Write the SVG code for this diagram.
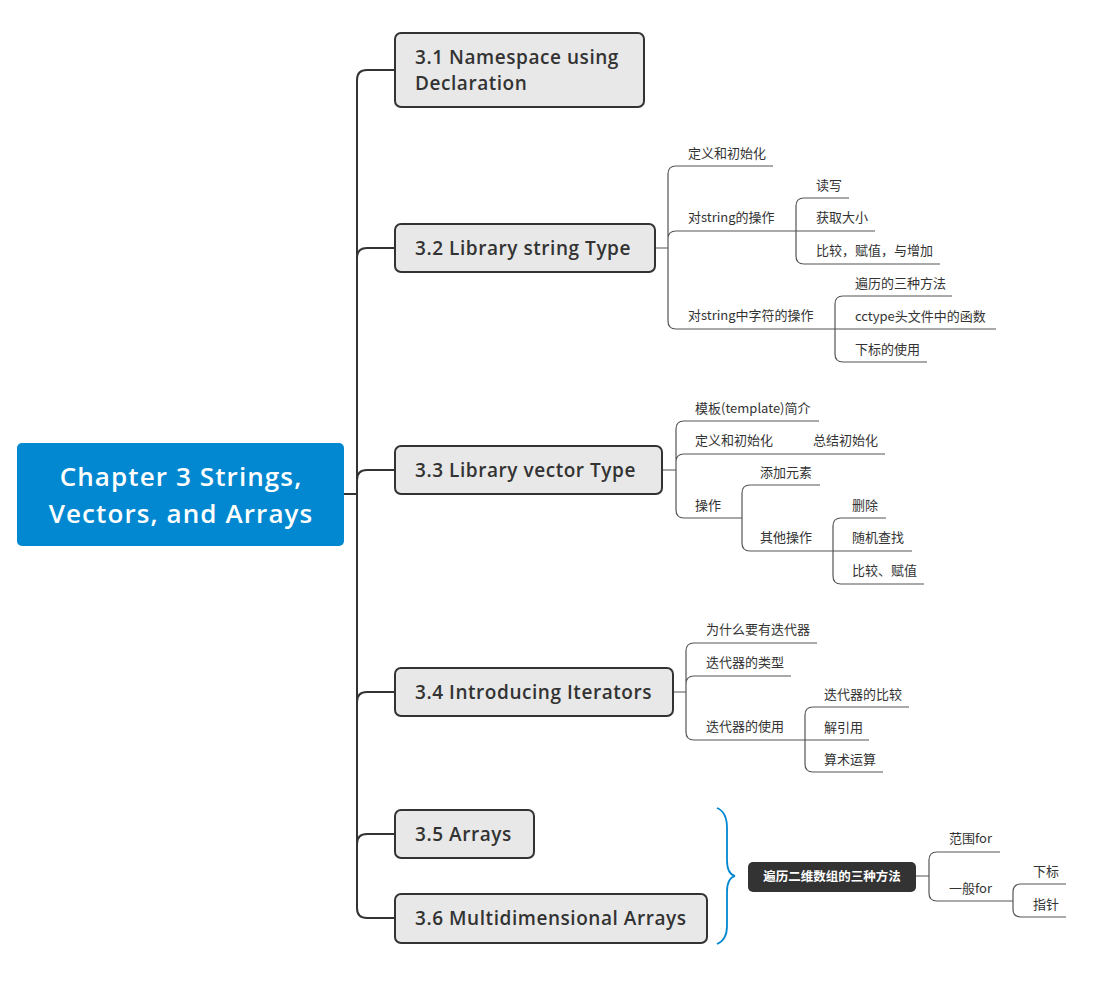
<svg xmlns="http://www.w3.org/2000/svg" width="1114" height="992" viewBox="0 0 1114 992">
<style>
.main{fill:#E8E8E8;stroke:#333;stroke-width:2}
.mt{font-family:"Open Sans","Liberation Sans",sans-serif;font-size:19px;font-weight:600;letter-spacing:0.55px;fill:#333}
.ct{font-family:"Noto Sans CJK SC","Noto Sans",sans-serif;font-size:13px;fill:#333}
.trunk{fill:none;stroke:#333;stroke-width:2}
.sub{fill:none;stroke:#555;stroke-width:1.2}
.rt{font-family:"Open Sans","Liberation Sans",sans-serif;font-size:26px;font-weight:600;letter-spacing:1.1px;fill:#fff}
</style>
<rect width="1114" height="992" fill="#fff"/>
<g id="connectors">
  <path class="trunk" d="M344,494 H357 M357,80 V908 M357,80 Q357,70 367,70 H395 M357,258 Q357,248 367,248 H395 M357,480 Q357,470 367,470 H395 M357,702 Q357,692 367,692 H395 M357,844 Q357,834 367,834 H395 M357,908 Q357,918 367,918 H395"/>
  <path class="sub" d="M655,248 H668 M668,174 V321 M668,174 Q668,166 676,166 H773 M668,239 Q668,231 676,231 H875 M668,321 Q668,329 676,329 H996"/>
  <path class="sub" d="M796,206 V256 M796,206 Q796,198 804,198 H849 M796,256 Q796,264 804,264 H940"/>
  <path class="sub" d="M835,304 V354 M835,304 Q835,296 843,296 H952 M835,354 Q835,362 843,362 H927"/>
  <path class="sub" d="M662,470 H676 M676,429 V510 M676,429 Q676,421 684,421 H819 M676,462 Q676,454 684,454 H885 M676,510 Q676,518 684,518 H742"/>
  <path class="sub" d="M742,493 V543 M742,493 Q742,485 750,485 H820 M742,543 Q742,551 750,551 H912"/>
  <path class="sub" d="M833,526 V576 M833,526 Q833,518 841,518 H886 M833,576 Q833,584 841,584 H924"/>
  <path class="sub" d="M673,692 H686 M686,651 V732 M686,651 Q686,643 694,643 H817 M686,684 Q686,676 694,676 H791 M686,732 Q686,740 694,740 H869"/>
  <path class="sub" d="M805,715 V764 M805,715 Q805,707 813,707 H909 M805,764 Q805,772 813,772 H883"/>
  <path fill="none" stroke="#0288D1" stroke-width="1.8" d="M717,808 Q727,812 727,828 V860 Q727,874 735,876 Q727,878 727,892 V926 Q727,940 717,944"/>
  <path class="sub" d="M916,876 H929 M929,860 V893 M929,860 Q929,852 937,852 H1000 M929,893 Q929,901 937,901 H1013"/>
  <path class="sub" d="M1013,892 V909 M1013,892 Q1013,884 1021,884 H1066 M1013,909 Q1013,917 1021,917 H1066"/>
</g>
<g id="root">
  <rect x="17" y="443" width="327" height="103" rx="5" fill="#0288D1"/>
  <text class="rt" x="181" y="486" text-anchor="middle">Chapter 3 Strings,</text>
  <text class="rt" x="181" y="523" text-anchor="middle">Vectors, and Arrays</text>
</g>
<g id="n31"><rect class="main" x="395" y="33" width="249" height="74" rx="6"/><text class="mt" x="415" y="64">3.1 Namespace using</text><text class="mt" x="415" y="90">Declaration</text></g>
<g id="n32"><rect class="main" x="395" y="224" width="260" height="48" rx="6"/><text class="mt" x="415" y="255">3.2 Library string Type</text></g>
<g id="n33"><rect class="main" x="395" y="446" width="267" height="48" rx="6"/><text class="mt" x="415" y="477">3.3 Library vector Type</text></g>
<g id="n34"><rect class="main" x="395" y="668" width="278" height="48" rx="6"/><text class="mt" x="415" y="699">3.4 Introducing Iterators</text></g>
<g id="n35"><rect class="main" x="395" y="810" width="139" height="48" rx="6"/><text class="mt" x="415" y="841">3.5 Arrays</text></g>
<g id="n36"><rect class="main" x="395" y="894" width="312" height="49" rx="6"/><text class="mt" x="415" y="925">3.6 Multidimensional Arrays</text></g>
<g id="c32">
  <text class="ct" x="688" y="158">定义和初始化</text>
  <text class="ct" x="688" y="222">对string的操作</text>
  <text class="ct" x="816" y="190">读写</text>
  <text class="ct" x="816" y="222">获取大小</text>
  <text class="ct" x="816" y="255">比较，赋值，与增加</text>
  <text class="ct" x="688" y="320">对string中字符的操作</text>
  <text class="ct" x="855" y="288">遍历的三种方法</text>
  <text class="ct" x="855" y="321">cctype头文件中的函数</text>
  <text class="ct" x="855" y="354">下标的使用</text>
</g>
<g id="c33">
  <text class="ct" x="695" y="413">模板(template)简介</text>
  <text class="ct" x="695" y="445">定义和初始化</text>
  <text class="ct" x="813" y="445">总结初始化</text>
  <text class="ct" x="695" y="510">操作</text>
  <text class="ct" x="760" y="477">添加元素</text>
  <text class="ct" x="760" y="542">其他操作</text>
  <text class="ct" x="852" y="510">删除</text>
  <text class="ct" x="852" y="542">随机查找</text>
  <text class="ct" x="852" y="575">比较、赋值</text>
</g>
<g id="c34">
  <text class="ct" x="706" y="634">为什么要有迭代器</text>
  <text class="ct" x="706" y="667">迭代器的类型</text>
  <text class="ct" x="706" y="731">迭代器的使用</text>
  <text class="ct" x="824" y="699">迭代器的比较</text>
  <text class="ct" x="824" y="732">解引用</text>
  <text class="ct" x="824" y="764">算术运算</text>
</g>
<g id="summary">
  <rect x="748" y="862" width="168" height="30" rx="5" fill="#333"/>
  <text x="832" y="881" text-anchor="middle" font-family="'Noto Sans CJK SC',sans-serif" font-size="12.5" font-weight="700" fill="#fff">遍历二维数组的三种方法</text>
  <text class="ct" x="949" y="843">范围for</text>
  <text class="ct" x="949" y="893">一般for</text>
  <text class="ct" x="1033" y="876">下标</text>
  <text class="ct" x="1033" y="909">指针</text>
</g>
</svg>
